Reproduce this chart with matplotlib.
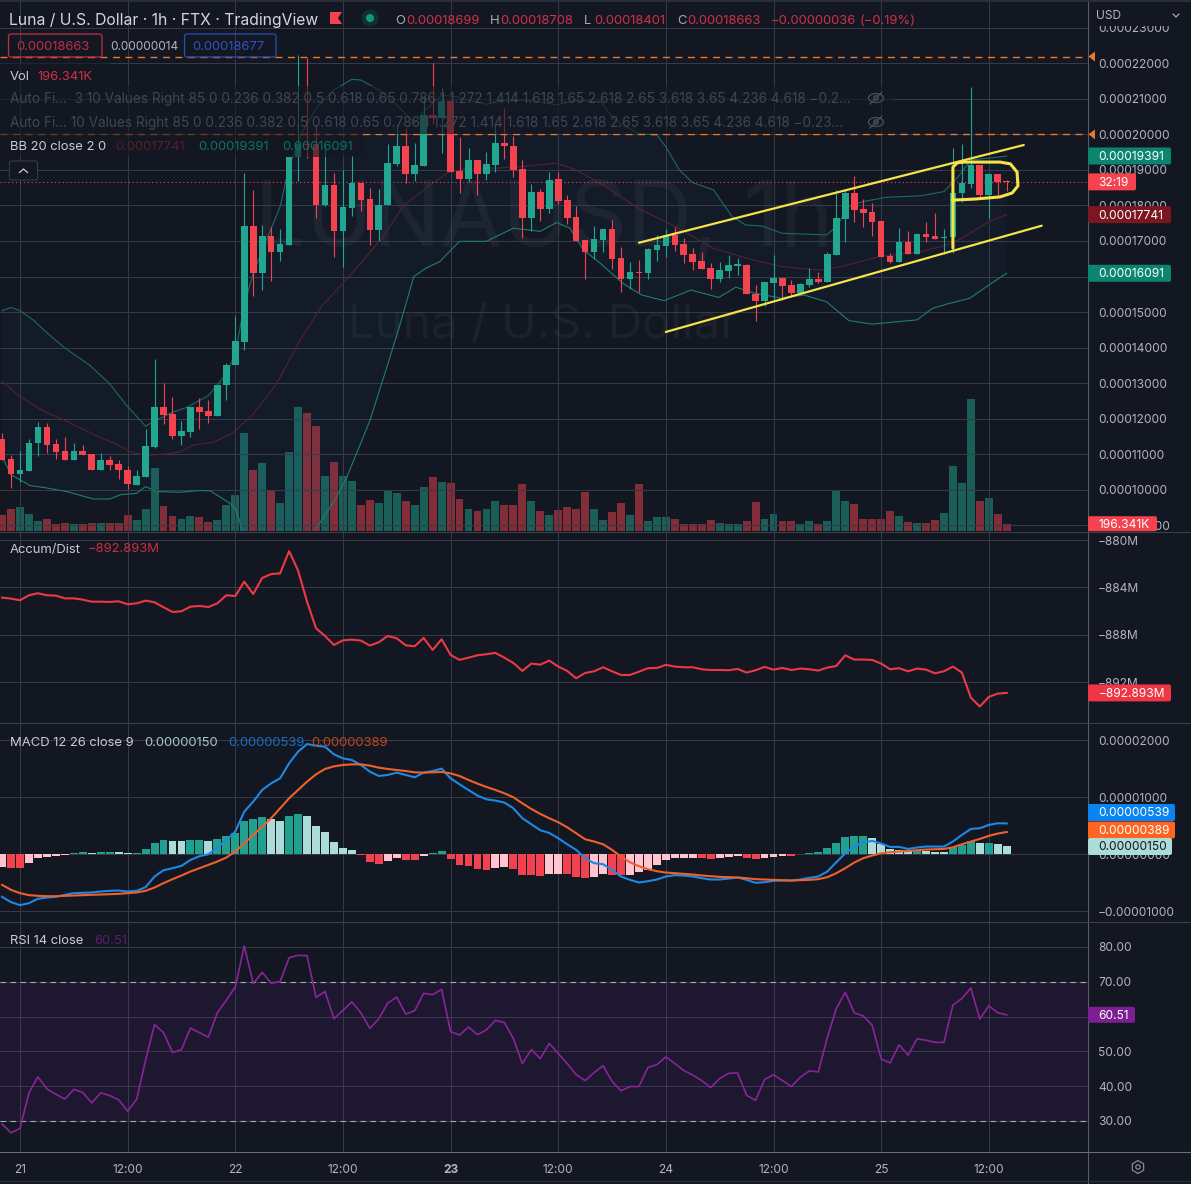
import numpy as np
import matplotlib
matplotlib.use('Agg')
import matplotlib.pyplot as plt
from matplotlib.patches import Circle, Ellipse, FancyBboxPatch, Polygon, Rectangle, RegularPolygon

plt.rcParams['font.family'] = ['Inter', 'DejaVu Sans']

# candles, hours counted from 21st 00:00, prices in units of 0.00001
hours = np.arange(-2, 111)
opens = [11.42,10.86,10.44,10.52,11.32,11.77,11.28,11.08,10.84,11.08,
         11.00,10.57,10.83,10.72,10.57,10.14,10.35,11.20,12.33,12.13,
         11.51,11.62,12.33,12.22,12.08,12.96,13.50,14.16,17.41,16.10,
         17.15,16.70,16.89,19.36,19.72,19.72,18.02,18.58,17.27,17.94,
         18.63,18.19,17.31,18.00,19.17,19.68,18.89,19.12,20.55,20.45,
         20.95,18.98,18.75,19.28,18.89,19.14,19.75,19.68,19.02,17.66,
         18.37,17.91,18.74,18.16,17.67,17.03,16.70,17.03,17.33,16.53,
         15.94,16.13,16.09,16.75,16.86,17.16,16.91,16.62,16.43,16.24,
         15.94,16.16,16.30,16.32,15.52,15.32,15.83,15.95,15.75,15.53,
         15.76,15.92,15.85,16.61,17.62,18.34,17.89,17.82,17.56,16.57,
         16.41,16.97,16.63,17.20,17.14,17.07,17.10,18.36,18.60,19.14,
         18.29,18.89,18.699]
highs = [11.59,10.97,11.09,11.44,11.92,11.88,11.43,11.48,11.31,11.26,
         11.02,11.03,10.94,10.84,10.67,10.55,11.71,13.68,13.00,12.60,
         11.94,12.33,12.58,12.52,12.95,13.57,14.88,18.91,18.44,17.45,
         17.40,17.34,19.36,22.23,22.14,20.29,19.70,18.90,19.00,19.42,
         18.63,18.49,18.46,19.72,20.30,20.17,19.75,21.06,22.00,21.33,
         20.95,19.92,19.61,19.28,19.50,20.31,20.73,19.94,19.28,18.61,
         18.46,18.94,18.95,18.30,17.99,17.03,17.43,17.33,17.59,16.84,
         16.42,16.47,16.79,17.17,17.33,17.40,17.08,16.79,16.70,16.37,
         16.42,16.60,16.51,16.34,15.75,15.84,16.61,15.95,15.90,15.81,
         16.25,16.14,16.68,18.44,18.44,18.83,18.17,18.08,17.56,16.65,
         17.36,17.29,17.22,17.54,17.78,17.33,19.61,19.73,21.32,19.14,
         18.89,18.89,18.708]
lows = [10.84,10.05,10.22,10.52,10.94,11.04,10.87,10.84,10.84,10.97,
        10.57,10.57,10.55,10.31,10.01,10.14,10.35,11.18,11.86,11.44,
        11.26,11.49,11.71,11.88,12.08,12.53,13.50,13.92,15.45,15.62,
        15.88,16.45,16.89,18.70,19.33,17.64,17.98,16.55,16.28,17.69,
        17.83,16.89,17.01,18.00,19.10,18.63,18.70,19.12,20.30,19.47,
        18.95,18.34,18.65,18.28,18.72,18.94,19.31,18.81,17.08,17.29,
        17.55,17.80,18.04,17.48,17.01,15.93,16.49,16.70,16.20,15.57,
        15.64,15.57,15.92,16.44,16.56,16.73,16.37,16.17,16.22,15.66,
        15.85,15.95,16.04,15.52,14.76,15.17,15.34,15.34,15.43,15.53,
        15.71,15.81,15.85,16.61,16.97,17.54,17.40,17.14,16.55,16.37,
        16.41,16.63,16.63,16.98,17.05,16.63,16.67,18.11,18.48,18.25,
        17.64,18.29,18.401]
closes = [10.84,10.44,10.55,11.33,11.77,11.26,11.06,10.84,11.08,10.97,
          10.57,10.83,10.69,10.55,10.16,10.38,11.23,12.33,12.11,11.50,
          11.64,12.33,12.19,12.08,12.95,13.52,14.18,17.41,16.11,17.15,
          16.70,16.92,19.36,19.73,19.71,18.02,18.58,17.27,17.95,18.63,
          18.16,17.31,18.02,19.19,19.68,18.89,19.14,20.55,20.45,20.95,
          18.95,18.75,19.28,18.89,19.16,19.75,19.66,19.00,17.66,18.37,
          17.91,18.72,18.13,17.66,17.01,16.70,17.06,17.33,16.50,15.94,
          16.13,16.09,16.77,16.88,17.16,16.89,16.61,16.41,16.22,15.94,
          16.17,16.32,16.34,15.52,15.32,15.84,15.95,15.73,15.55,15.79,
          15.92,15.85,16.63,17.64,18.36,17.87,17.80,17.54,16.55,16.41,
          16.97,16.63,17.20,17.10,17.05,17.11,18.36,18.62,19.14,18.29,
          18.89,18.67,18.663]
volumes_k = [432,594,648,459,270,324,189,216,180,189,
             216,216,225,225,432,297,594,1701,675,405,
             324,405,378,243,297,702,972,2646,1647,1836,
             1107,756,2133,3348,3186,2835,1485,1863,1485,1350,
             702,837,756,1107,1026,819,711,1188,1458,1332,
             1296,873,603,549,603,819,711,711,1278,819,
             549,441,576,657,603,1062,603,306,522,765,
             441,1278,279,387,387,333,198,198,198,306,
             225,198,189,279,792,333,468,279,279,198,
             279,198,279,1116,819,738,333,333,333,549,
             414,252,225,225,306,495,1764,1305,3564,819,
             900,468,196.341]

# bollinger bands, read at the hours where the line bends
bb_upper_h = [-2,-1,0,1.5,3.3,5,7.8,10,11.9,14,15,17,18.6,21,23,24,25,26,27.7,29,30,31.4,33,35,37,38,40,42,44,45,
              47,48.7,50,52,54.6,57,59.8,62,64.7,66.3,68.9,71,72,73.5,75,77.3,79.4,80.9,82.8,84.9,89.9,91,92.4,94,
              96.6,100.4,103,104.6,106,108,110]
bb_upper = [15.04,15.13,15.04,14.77,14.35,13.99,13.5,12.98,12.37,11.79,11.94,12.18,12.32,12.65,13.26,13.83,15.2,16.1,
            17.17,17.97,19.1,20.03,20.73,21.25,21.55,21.53,21.25,20.83,20.31,20.64,21.1,21.06,20.95,20.85,20.97,
            20.95,20.83,20.95,20.92,20.41,20.03,19.98,19.65,19.0,18.64,18.44,17.68,17.45,17.42,17.22,17.17,17.4,
            17.97,18.11,18.23,18.27,18.39,18.81,19.28,19.33,19.391]
bb_basis_h = [-2,0,2.6,5.2,8.2,10.4,12.6,14.1,16.4,17.8,19.3,21.6,23.8,26,28.6,31.2,33.6,35.7,38.3,40.5,42.7,45.7,47.9,
              50.2,53.1,56.1,59.8,62,64.7,68.9,73.1,77.3,81.5,84.9,89.1,91.6,95.8,100.4,103.4,105,108,110]
bb_basis = [13.05,12.62,12.22,11.93,11.56,11.32,11.04,10.97,11.01,11.06,11.26,11.34,11.61,12.13,12.98,14.2,15.16,15.72,
            16.47,17.13,17.97,18.58,18.95,19.05,19.05,19.1,19.19,19.0,18.62,17.92,17.4,16.79,16.48,16.28,16.18,
            16.28,16.56,16.7,16.89,17.08,17.54,17.741]
bb_lower_h = [-2,-1,0,1.1,3,5.2,8.2,10,11.2,13,14,15.2,17.8,20.1,21.2,23.4,24,24.4,24.8,27,30,32.7,35,36.4,39,40.9,42.4,
              43.9,45.3,46.8,49,52,55,58,59.8,61.3,62.8,64.7,67.2,69.3,71.8,74.8,77.9,79.8,81.9,84.9,87.4,89.9,92.4,
              95,97.9,100,101.7,103.4,105.9,108,110]
bb_lower = [10.94,10.42,10.28,10.12,10.05,9.95,9.74,9.74,9.86,9.9,10.09,9.95,9.93,9.98,9.97,9.62,9.46,9.2,8.79,7.6,7.3,
            8.79,9.67,10.33,11.94,13.45,14.68,16.0,16.24,16.42,16.99,16.99,17.36,17.27,17.52,17.36,16.75,16.37,15.81,
            15.48,15.32,15.62,15.41,15.7,15.53,15.39,15.48,15.29,14.76,14.66,14.73,14.78,15.1,15.23,15.39,15.76,16.091]

# hand drawn yellow lines on the chart
channel_upper_h = [69.0, 111.9]
channel_upper_p = [16.95, 19.7]
channel_lower_h = [72.0, 113.9]
channel_lower_p = [14.44, 17.43]
pennant_h = [104,104,104.5,105.3,109.25,110.4,111.15,111.25,110.6,109.25,106.5,104]
pennant_p = [16.8,19.08,19.2,19.22,19.22,19.17,18.94,18.55,18.35,18.24,18.18,18.15]

accum = [-884.86,-884.94,-885.08,-884.66,-884.49,-884.66,-884.69,-884.92,-884.92,-885.03,
         -885.20,-885.20,-885.22,-885.17,-885.42,-885.34,-885.11,-885.25,-885.67,-886.07,
         -886.01,-885.62,-885.56,-885.65,-885.34,-884.66,-884.72,-883.51,-884.55,-883.20,
         -882.87,-882.81,-880.93,-882.58,-885.20,-887.44,-888.09,-888.85,-888.46,-888.40,
         -888.48,-888.90,-888.62,-888.09,-888.29,-888.88,-888.96,-888.26,-889.27,-888.37,
         -889.69,-890.11,-889.92,-889.72,-889.63,-889.52,-889.92,-890.37,-891.04,-890.42,
         -890.51,-890.17,-890.67,-891.04,-891.66,-891.21,-891.07,-890.73,-891.07,-891.38,
         -891.38,-891.10,-890.81,-890.79,-890.53,-890.67,-890.73,-890.73,-890.90,-890.96,
         -890.96,-890.98,-890.87,-891.18,-890.98,-890.70,-890.93,-890.79,-890.96,-890.84,
         -890.90,-891.01,-890.76,-890.62,-889.72,-890.08,-890.08,-890.11,-890.42,-890.90,
         -890.81,-891.07,-890.84,-890.93,-891.24,-891.07,-890.67,-891.18,-893.29,-894.04,
         -893.23,-892.95,-892.893]

macd_line = [-.746,-.84,-.892,-.857,-.78,-.758,-.746,-.711,-.682,-.676,
             -.67,-.653,-.641,-.636,-.653,-.641,-.577,-.39,-.28,-.245,
             -.204,-.1,-.035,0,.117,.25,.397,.746,.921,1.125,
             1.242,1.33,1.592,1.796,1.93,1.9,1.883,1.749,1.679,1.65,
             1.563,1.446,1.37,1.388,1.429,1.388,1.347,1.429,1.458,1.499,
             1.33,1.224,1.125,1.026,.962,.939,.904,.805,.63,.525,
             .42,.373,.28,.175,.076,-.07,-.157,-.175,-.274,-.39,
             -.449,-.496,-.472,-.443,-.39,-.367,-.373,-.39,-.42,-.443,
             -.443,-.426,-.408,-.449,-.501,-.49,-.466,-.461,-.461,-.443,
             -.414,-.39,-.303,-.14,.017,.134,.21,.233,.187,.128,
             .128,.093,.117,.134,.134,.134,.222,.338,.443,.455,
             .513,.542,.539]
macd_signal = [-.536,-.624,-.682,-.717,-.729,-.735,-.735,-.729,-.723,-.717,
               -.711,-.706,-.7,-.694,-.682,-.67,-.641,-.583,-.507,-.437,
               -.373,-.303,-.245,-.187,-.128,-.058,.047,.192,.338,.484,
               .63,.805,.98,1.125,1.271,1.399,1.493,1.539,1.563,1.574,
               1.574,1.551,1.516,1.493,1.475,1.458,1.434,1.429,1.434,1.44,
               1.417,1.37,1.3,1.236,1.178,1.125,1.067,.997,.892,.793,
               .706,.63,.56,.472,.367,.262,.222,.175,.076,-.041,
               -.14,-.21,-.262,-.297,-.321,-.332,-.344,-.356,-.373,-.385,
               -.397,-.402,-.408,-.42,-.437,-.443,-.449,-.455,-.461,-.455,
               -.449,-.437,-.402,-.332,-.245,-.146,-.07,-.023,.017,.035,
               .047,.058,.07,.082,.087,.093,.122,.175,.222,.268,
               .321,.362,.389]
macd_hist = [-.216,-.233,-.24,-.15,-.07,-.047,-.03,-.012,.03,.04,
             .02,.035,.04,.038,.023,.024,.093,.2,.25,.233,
             .23,.25,.252,.233,.268,.32,.367,.583,.618,.653,
             .618,.583,.676,.706,.67,.496,.39,.216,.11,.076,
             -.006,-.134,-.17,-.117,-.064,-.1,-.102,-.03,.023,.058,
             -.08,-.187,-.204,-.257,-.274,-.239,-.22,-.257,-.36,-.362,
             -.38,-.344,-.34,-.344,-.397,-.414,-.397,-.344,-.36,-.37,
             -.36,-.32,-.274,-.187,-.1,-.064,-.063,-.062,-.065,-.08,
             -.06,-.047,-.035,-.064,-.08,-.06,-.047,-.035,-.036,.006,
             .017,.04,.11,.2,.3,.32,.322,.286,.175,.093,
             .076,.058,.06,.058,.047,.04,.128,.163,.233,.198,
             .2,.175,.15]
rsi = [29.1,26.6,27.85,38.1,42.7,39.2,37.7,36.3,39.1,38.2,
       35.2,38.1,37.3,36.1,32.8,36.2,47.5,57.7,55.4,49.7,
       50.5,56.7,55.4,54.1,61.1,64.7,68.5,80.3,69.5,72.7,
       69.6,70.1,76.9,77.6,77.5,65.5,67.2,59.4,61.8,64.2,
       61.1,56.6,59.4,63.9,65.6,60.7,61.7,66.7,66.3,67.8,
       55.7,54.7,57.0,54.8,56.2,58.9,58.3,53.7,46.5,50.5,
       47.9,52.3,49.4,46.5,43.3,41.6,43.9,45.9,41.4,38.7,
       39.9,39.9,45.4,46.2,48.4,46.5,44.5,43.2,41.6,39.6,
       42.2,43.7,43.8,37.4,35.9,41.9,43.3,41.6,39.9,42.6,
       44.4,44.1,54.0,62.3,67.0,61.1,60.2,57.5,47.8,46.7,
       51.9,48.9,53.6,53.2,52.6,52.6,63.3,65.2,68.2,59.3,
       63.1,61.1,60.51]

price_ticks = list(range(9, 24))
accum_ticks = [-880, -884, -888, -892]
macd_ticks = [-1, 0, 1, 2]
rsi_ticks = [30, 40, 50, 60, 70, 80]
time_ticks = [0, 12, 24, 36, 48, 60, 72, 84, 96, 108]
time_labels = ['21', '12:00', '22', '12:00', '23', '12:00', '24', '12:00', '25', '12:00']

W, H = 1191, 1184
BG = '#131722'
GRID = '#363a47'
UP = '#22a68f'
DOWN = '#f4434f'
TEXT = '#c9ccd4'
AXIS_TEXT = '#b2b5be'
PLOT_R = 1088


def px(size):
    return size * 0.72


fig = plt.figure(figsize=(W / 100, H / 100), dpi=100, facecolor=BG)


def pane(top, bottom):
    ax = fig.add_axes([0, 1 - bottom / H, PLOT_R / W, (bottom - top) / H], facecolor=BG)
    ax.set_xlim(-2.23, 119.06)
    ax.set_xticks(time_ticks)
    ax.grid(True, color=GRID, lw=0.75)
    ax.set_axisbelow(True)
    ax.yaxis.tick_right()
    ax.tick_params(axis='y', length=0, pad=7.2, labelsize=px(12), labelcolor=AXIS_TEXT)
    ax.tick_params(axis='x', length=0, labelbottom=False)
    for s in ax.spines.values():
        s.set_visible(False)
    return ax


opens_a, closes_a = np.array(opens), np.array(closes)
is_down = closes_a < opens_a
candle_colors = np.where(is_down, DOWN, UP)

# volume sits behind the price axes
ax_vol = pane(0, 531)
ax_vol.set_ylim(0, 531 * 27)
ax_vol.grid(False)
ax_vol.set_yticks([])
ax_vol.bar(hours, volumes_k, width=0.88, color=candle_colors, alpha=0.5, lw=0, zorder=2)
ax_vol.set_zorder(1)

ax = pane(0, 531)
ax.set_zorder(2)
ax.patch.set_visible(False)
ax.set_ylim(8.84, 23.78)
ax.set_yticks(price_ticks)
ax.set_yticklabels([f'{p * 1e-5:.8f}' for p in price_ticks])

ax.fill(np.r_[bb_upper_h, bb_lower_h[::-1]], np.r_[bb_upper, bb_lower[::-1]], color='#2196f3', alpha=0.035, lw=0, zorder=1)
ax.plot(bb_upper_h, bb_upper, color='#1d6a60', lw=0.8, zorder=2)
ax.plot(bb_lower_h, bb_lower, color='#1f7d70', lw=0.8, zorder=2)
ax.plot(bb_basis_h, bb_basis, color='#552231', lw=0.8, zorder=2)

ax.axhline(22.19, color='#f0761f', lw=1, ls=(0, (5, 4)), zorder=2)
ax.axhline(20.0, color='#f0761f', lw=1, ls=(0, (5, 4)), zorder=2)
ax.axhline(closes[-1], color=DOWN, lw=0.8, ls=(0, (1, 2.5)), zorder=2)

ax.vlines(hours, lows, highs, colors=candle_colors, lw=0.8, zorder=3)
ax.bar(hours, np.abs(closes_a - opens_a), bottom=np.minimum(opens_a, closes_a), width=0.74, color=candle_colors, lw=0, zorder=4)

yellow = '#f5e34a'
ax.plot(channel_upper_h, channel_upper_p, color=yellow, lw=1.6, zorder=5, solid_capstyle='round')
ax.plot(channel_lower_h, channel_lower_p, color=yellow, lw=1.6, zorder=5, solid_capstyle='round')
ax.plot(pennant_h, pennant_p, color=yellow, lw=2.2, zorder=5, solid_capstyle='round', solid_joinstyle='round')

# accumulation / distribution
ax_ad = pane(531, 723)
ax_ad.set_ylim(-895.43, -879.24)
ax_ad.set_yticks(accum_ticks)
ax_ad.set_yticklabels([f'\u2212{abs(v)}M' for v in accum_ticks])
ax_ad.plot(hours, accum, color='#ee3846', lw=1.5)

# macd
ax_m = pane(723, 922)
ax_m.set_ylim(-1.187, 2.298)
ax_m.set_yticks(macd_ticks)
ax_m.set_yticklabels(['\u22120.00001000', '0.00000000', '0.00001000', '0.00002000'])
hist_colors = []
for i, v in enumerate(macd_hist):
    prev = macd_hist[i - 1] if i else v
    if v >= 0:
        hist_colors.append('#22a08f' if v >= prev else '#acdcd7')
    else:
        hist_colors.append('#f2424f' if v < prev else '#ffc4d0')
ax_m.bar(hours, macd_hist, width=0.88, color=hist_colors, lw=0, zorder=2)
ax_m.plot(hours, macd_line, color='#1e88e5', lw=1.5, zorder=3)
ax_m.plot(hours, macd_signal, color='#f0602a', lw=1.5, zorder=4)

# rsi
ax_r = pane(922, 1152)
ax_r.set_ylim(21.09, 87.18)
ax_r.set_yticks(rsi_ticks)
ax_r.set_yticklabels([f'{v:.2f}' for v in rsi_ticks])
ax_r.axhspan(30, 70, color='#6f1795', alpha=0.13, lw=0, zorder=1)
ax_r.axhline(70, color='#a9abb4', lw=0.8, ls=(0, (5, 4)), zorder=2)
ax_r.axhline(30, color='#a9abb4', lw=0.8, ls=(0, (5, 4)), zorder=2)
ax_r.plot(hours, rsi, color='#8a2499', lw=1.2, zorder=3)
ax_r.tick_params(axis='x', labelbottom=True, labelsize=px(12), labelcolor=AXIS_TEXT, pad=8.5)
ax_r.set_xticklabels(time_labels)
ax_r.get_xticklabels()[4].set_fontweight('bold')

# everything that floats above the panes is placed in pixel coordinates
ov = fig.add_axes([0, 0, 1, 1], zorder=10)
ov.set_xlim(0, W)
ov.set_ylim(H, 0)
ov.axis('off')


def label(x, y, s, color=TEXT, size=13, **kw):
    kw.setdefault('va', 'center')
    kw.setdefault('ha', 'left')
    return ov.text(x, y + 1.5, s, color=color, fontsize=px(size), **kw)


def tag(source, value, s, fc, tc='#ffffff', w=83, h=17, y=None):
    if y is None:
        y = H - source.transData.transform((0, value))[1]
    ov.add_patch(FancyBboxPatch((PLOT_R, y - h / 2), w, h, boxstyle='round,pad=0,rounding_size=2', fc=fc, ec='none', zorder=4))
    label(PLOT_R + 10.5, y - 0.5, s, tc, 12, zorder=5)


# watermark goes under the candles, in the price axes
ax.text(544, 222, 'LUNAUSD, 1h', color='#1d212c', fontsize=px(90), ha='center', va='center',
        transform=ov.transData, zorder=0.5, clip_on=False)
ax.text(543, 326, 'Luna / U.S. Dollar', color='#1d212c', fontsize=px(47.5), ha='center', va='center',
        transform=ov.transData, zorder=0.5, clip_on=False)

# legend rows dim what is behind them
for x1, y1, y2 in [(110, 63, 86), (892, 86, 134), (362, 134, 157)]:
    ov.add_patch(Rectangle((0, y1), x1, y2 - y1, fc=BG, ec='none', alpha=0.6, zorder=1))

# right scale furniture
ov.plot([PLOT_R, PLOT_R], [0, H], color='#5a5d68', lw=0.75, zorder=2)
for y, col in [(531.5, '#3d414d'), (723, '#3d414d'), (922, '#3d414d'), (1152, '#6a6d78'), (1181, '#2c303b')]:
    ov.plot([0, W], [y, y], color=col, lw=0.75, zorder=2)
ov.add_patch(Rectangle((PLOT_R + 0.5, 0), W - PLOT_R, 26, fc=BG, ec='none', zorder=3))
ov.add_patch(Rectangle((0, 0), W, 2, fc='#2a2e39', ec='none', zorder=3))
label(1096, 14.5, 'USD', AXIS_TEXT, 12, zorder=4)
ov.plot([1173, 1176, 1179], [14, 17, 14], color=AXIS_TEXT, lw=0.8, zorder=4)

# orange arrows on the scale
for p in (22.19, 20.0):
    y = H - ax.transData.transform((0, p))[1]
    ov.add_patch(Polygon([(PLOT_R + 0.5, y), (PLOT_R + 7, y - 5), (PLOT_R + 7, y + 5)], fc='#f0761f', ec='none', zorder=4))

tag(ax, 19.391, '0.00019391', '#0b8570')
tag(ax, 18.663, '32:19', DOWN, w=48)
tag(ax, 17.741, '0.00017741', '#7c1620')
tag(ax, 16.091, '0.00016091', '#0b8570')
tag(ax_vol, 196.341, '196.341K', DOWN, w=69, h=15)
tag(ax_ad, -892.893, '\u2212892.893M', '#f03544')
# the scale pushes these three apart so they stack
tag(ax_m, 0.539, '0.00000539', '#0a84f0', w=87, y=812.5)
tag(ax_m, 0.389, '0.00000389', '#ff6420', w=87, y=830)
tag(ax_m, 0.15, '0.00000150', '#acdcd7', tc='#131722', w=84, y=846.5)
tag(ax_r, 60.51, '60.51', '#7b1f92', w=47, h=16)

# header
label(9, 19, 'Luna / U.S. Dollar \u00b7 1h \u00b7 FTX \u00b7 TradingView', '#d5d7dd', 15.7)
ov.add_patch(Polygon([(330, 12), (342, 12), (338, 18), (342, 24), (330, 24)], fc=DOWN, ec='none'))
ov.add_patch(Circle((370, 18), 8.5, fc='#12302f', ec='none'))
ov.add_patch(Circle((370, 18), 4, fc='#0b9a80', ec='none'))
red_text = '#d22f48'
for x, s in [(395, 'O'), (490, 'H'), (584, 'L'), (677, 'C')]:
    label(x, 19, s, '#a9abb3')
for x, s in [(406, '0.00018699'), (500.5, '0.00018708'), (594, '0.00018401'), (687, '0.00018663'),
             (770.5, '\u22120.00000036'), (860, '(\u22120.19%)')]:
    label(x, 19, s, red_text)

ov.add_patch(FancyBboxPatch((8.5, 34), 93.5, 23, boxstyle='round,pad=0,rounding_size=2.5', fc='none', ec='#c22d45', lw=0.9))
label(16.5, 46, '0.00018663', '#bf2c44')
label(110, 46, '0.00000014', AXIS_TEXT, 11.8)
ov.add_patch(FancyBboxPatch((184.5, 34), 91.5, 23, boxstyle='round,pad=0,rounding_size=2.5', fc='none', ec='#2a4fb8', lw=0.9))
label(192, 46, '0.00018677', '#2c55c4')

label(9.5, 75, 'Vol')
label(37.5, 75, '196.341K', red_text)
dim = '#424652'
fibs = '0 0.236 0.382 0.5 0.618 0.65 0.786 1 1.272 1.414 1.618 1.65 2.618 2.65 3.618 3.65 4.236 4.618'
label(9.5, 98, f'Auto Fi...  3 10 Values Right 85 {fibs} \u22120.2...', dim, 13.6)
label(9.5, 122, f'Auto Fi... 10 Values Right 85 {fibs} \u22120.23...', dim, 13.6)
for y in (98, 122):
    ov.add_patch(Ellipse((876, y), 15, 9, fc='none', ec='#4c505c', lw=0.9))
    ov.add_patch(Circle((876, y), 2.2, fc='none', ec='#4c505c', lw=0.9))
    ov.plot([870, 882], [y + 6, y - 6], color='#4c505c', lw=0.9)

label(9.5, 146, 'BB 20 close 2 0')
label(115, 146, '0.00017741', '#5d1c2a')
label(198, 146, '0.00019391', '#0c7263')
label(282, 146, '0.00016091', '#0c7263')
ov.add_patch(FancyBboxPatch((9.5, 161), 28, 19, boxstyle='round,pad=0,rounding_size=2', fc=BG, ec='#363a45', lw=0.8))
ov.plot([19.5, 23.5, 27.5], [172.5, 169, 172.5], color=TEXT, lw=0.9)

label(9.5, 548, 'Accum/Dist')
label(87.7, 548, '\u2212892.893M', '#c8303f')
label(9.5, 741, 'MACD 12 26 close 9')
label(144.6, 741, '0.00000150', '#a9c9c6')
label(228, 741, '0.00000539', '#1a6fc0')
label(311, 741, '0.00000389', '#c2481f')
label(9.5, 939.5, 'RSI 14 close')
label(94.7, 939.5, '60.51', '#5f1b70')

# settings gear
ov.add_patch(RegularPolygon((1138, 1167), 6, radius=6.5, fc='none', ec='#858894', lw=0.9))
ov.add_patch(Circle((1138, 1167), 2.2, fc='none', ec='#858894', lw=0.9))

fig.savefig('out.png', dpi=100, facecolor=BG)
